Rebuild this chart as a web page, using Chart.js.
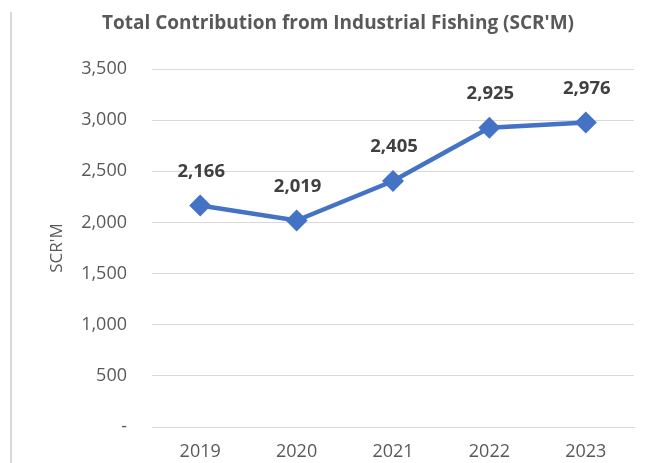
<!DOCTYPE html>
<html>
<head>
<meta charset="utf-8">
<script src="https://cdn.jsdelivr.net/npm/chart.js@4/dist/chart.umd.min.js"></script>
<style>
  html, body { margin: 0; padding: 0; background: #fff; }
  #wrap { position: relative; width: 659px; height: 463px; }
  #frame { position: absolute; left: 10px; top: 12px; height: 451px; border-left: 2px solid #d9d9d9; }
  canvas { position: absolute; left: 0; top: 0; }
</style>
</head>
<body>
<div id="wrap">
  <div id="frame"></div>
  <canvas id="c" width="659" height="463"></canvas>
</div>
<script>
const categories = ['2019', '2020', '2021', '2022', '2023'];
const values = [2166, 2019, 2405, 2925, 2976];
const yTickValues = [0, 500, 1000, 1500, 2000, 2500, 3000, 3500];
const yTickLabels = ['-', '500', '1,000', '1,500', '2,000', '2,500', '3,000', '3,500'];
const valueLabels = ['2,166', '2,019', '2,405', '2,925', '2,976'];

const FONT = "'Open Sans', 'Liberation Sans', sans-serif";

const dataLabelPlugin = {
  id: 'dataLabels',
  afterDatasetsDraw(chart) {
    const ctx = chart.ctx;
    const meta = chart.getDatasetMeta(0);
    ctx.save();
    ctx.font = "bold 18.5px " + FONT;
    ctx.fillStyle = '#404040';
    ctx.textAlign = 'center';
    ctx.textBaseline = 'middle';
    meta.data.forEach((pt, i) => {
      ctx.fillText(valueLabels[i], pt.x + 1, pt.y - 34);
    });
    ctx.restore();
  }
};

new Chart(document.getElementById('c'), {
  type: 'line',
  data: {
    labels: categories,
    datasets: [{
      data: values,
      borderColor: '#4472C4',
      backgroundColor: '#4472C4',
      borderWidth: 4.5,
      tension: 0,
      pointStyle: 'rectRot',
      pointRadius: 11,
      pointHoverRadius: 11,
      pointBorderWidth: 0
    }]
  },
  options: {
    responsive: false,
    animation: false,
    events: [],
    layout: { padding: { left: 42, right: 25, top: 0, bottom: 0 } },
    plugins: {
      legend: { display: false },
      tooltip: { enabled: false },
      title: {
        display: true,
        text: "Total Contribution from Industrial Fishing (SCR'M)",
        color: '#595959',
        font: { family: FONT, size: 19, weight: 'bold', lineHeight: 1.2 },
        padding: { top: 12.6, bottom: 33.6 }
      }
    },
    scales: {
      x: {
        offset: true,
        grid: { display: false, drawTicks: false },
        border: { display: true, color: '#d9d9d9', width: 1 },
        ticks: { color: '#595959', font: { family: FONT, size: 18 }, padding: 14 },
        afterFit(scale) { scale.height = 36; }
      },
      y: {
        min: 0,
        max: 3500,
        afterBuildTicks(scale) { scale.ticks = yTickValues.map(v => ({ value: v })); },
        grid: { color: '#d9d9d9', lineWidth: 1, drawTicks: false },
        border: { display: false },
        ticks: {
          color: '#595959',
          font: { family: FONT, size: 18 },
          padding: 25,
          callback(value) { const i = yTickValues.indexOf(value); return i >= 0 ? yTickLabels[i] : ''; }
        },
        title: {
          display: true,
          text: "SCR'M",
          color: '#595959',
          font: { family: FONT, size: 17 },
          padding: { top: 5, bottom: 0 }
        },
        afterFit(scale) { scale.width = 110; }
      }
    }
  },
  plugins: [dataLabelPlugin]
});
</script>
</body>
</html>
